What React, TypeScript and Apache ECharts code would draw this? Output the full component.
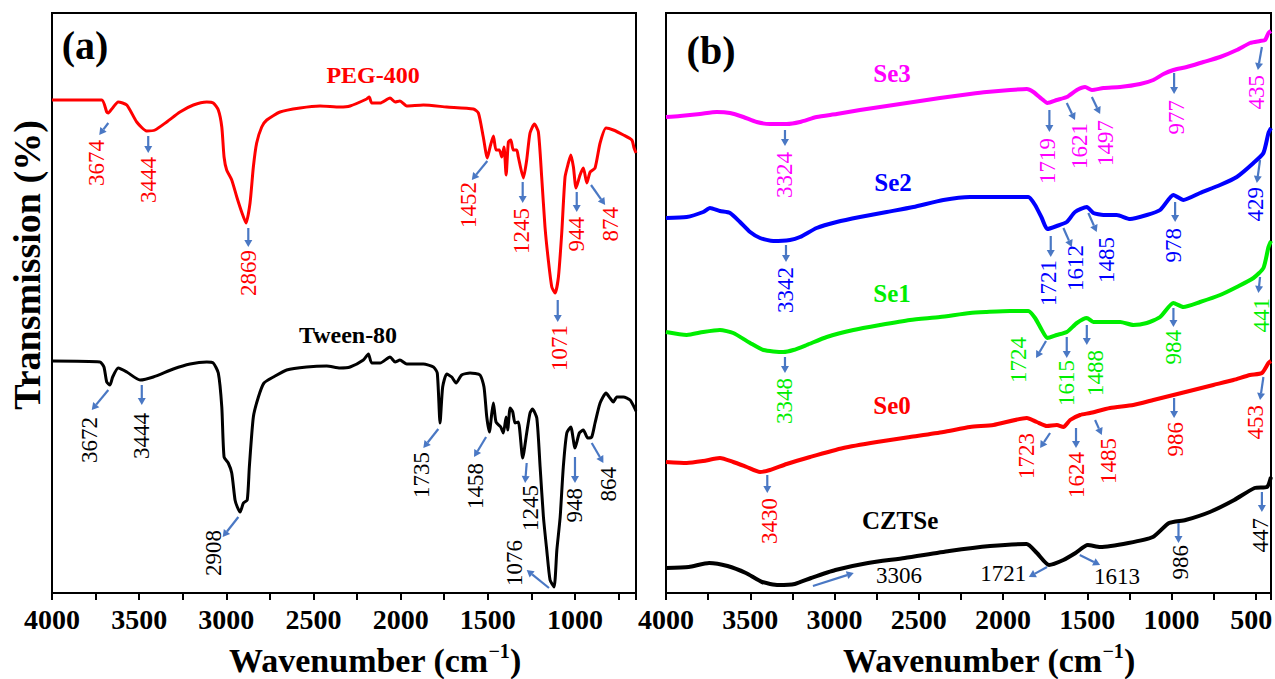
import React, { useEffect, useRef } from 'react';
import * as echarts from 'echarts';

// ---------- Panel (a): wavenumber (cm-1), transmission (a.u., offset) ----------
const peg400: [number, number][] = [
  [4000,493],[3715,493],[3686,481],[3677,480],[3657,484],[3620,491],[3571,488],[3514,471],[3457,462],[3409,463],
  [3342,471],[3266,481],[3189,488],[3112,491],[3075,490],[3046,483],[3026,466],[3013,436],[2998,423],[2969,413],
  [2940,396],[2912,381],[2887,370],[2864,390],[2845,426],[2826,450],[2797,466],[2768,473],[2692,481],[2577,485],
  [2462,487],[2348,486],[2290,487],[2195,494],[2180,496],[2166,490],[2118,490],[2061,495],[2032,491],[2004,492],
  [1965,487],[1870,488],[1736,486],[1583,484],[1554,480],[1526,456],[1503,435],[1487,446],[1468,457],[1453,443],
  [1434,443],[1420,436],[1407,446],[1395,418],[1382,451],[1368,453],[1354,443],[1334,443],[1325,436],[1296,415],
  [1277,433],[1258,460],[1233,469],[1210,461],[1191,416],[1172,366],[1153,333],[1133,306],[1114,300],[1095,316],
  [1076,360],[1057,416],[1038,430],[1024,438],[1009,426],[994,405],[971,418],[952,425],[932,410],[913,421],
  [885,425],[856,450],[822,465],[780,463],[722,458],[674,453],[661,445],[650,440]
];

const tween80: [number, number][] = [
  [4000,232],[3725,231],[3702,226],[3686,211],[3667,208],[3652,216],[3620,225],[3571,221],[3495,213],[3419,216],
  [3304,224],[3208,229],[3112,231],[3075,230],[3046,220],[3026,186],[3013,136],[2989,130],[2969,120],[2950,93],
  [2937,86],[2921,81],[2902,90],[2880,93],[2868,126],[2845,176],[2816,196],[2784,210],[2730,216],[2654,223],
  [2539,226],[2424,227],[2348,225],[2290,226],[2214,233],[2185,239],[2166,230],[2118,230],[2061,236],[2032,231],
  [2004,233],[1965,229],[1870,229],[1812,226],[1790,220],[1774,170],[1759,206],[1736,219],[1707,216],[1682,210],
  [1650,218],[1602,220],[1545,218],[1522,206],[1506,176],[1491,161],[1477,180],[1468,190],[1453,171],[1426,166],
  [1411,160],[1395,176],[1386,163],[1372,185],[1357,181],[1344,170],[1325,171],[1300,135],[1277,160],[1258,180],
  [1244,184],[1219,175],[1200,126],[1181,76],[1162,43],[1143,13],[1120,6],[1104,43],[1085,76],[1067,126],
  [1047,160],[1024,166],[1000,145],[975,160],[952,163],[927,155],[904,156],[885,170],[856,190],[822,200],
  [799,195],[780,191],[760,196],[722,196],[684,193],[661,186],[650,182]
];

// ---------- Panel (b) ----------
const se3: [number, number][] = [
  [4000,476],[3917,477],[3798,479],[3699,481],[3620,480],[3541,476],[3462,471],[3383,469],[3284,469],[3205,471],
  [3106,476],[2987,479],[2849,483],[2690,487],[2532,491],[2374,495],[2196,499],[2097,501],[1958,503],[1859,504],
  [1820,501],[1770,494],[1737,490],[1681,493],[1622,496],[1562,503],[1513,506],[1473,503],[1404,505],[1305,506],
  [1187,509],[1108,513],[1048,519],[989,523],[910,526],[811,531],[712,536],[613,543],[534,550],[475,552],
  [445,553],[425,560],[410,562]
];

const se2: [number, number][] = [
  [4000,375],[3877,376],[3779,381],[3739,385],[3680,382],[3620,380],[3561,371],[3501,361],[3442,355],[3363,352],
  [3264,353],[3205,356],[3106,365],[2987,371],[2849,376],[2690,381],[2532,386],[2354,393],[2196,396],[2097,396],
  [1958,396],[1850,396],[1810,388],[1770,375],[1737,364],[1681,367],[1622,371],[1573,381],[1503,386],[1464,380],
  [1404,378],[1325,378],[1246,374],[1147,378],[1068,383],[989,398],[930,393],[831,400],[712,408],[613,416],
  [514,430],[455,440],[425,460],[410,465]
];

const se1: [number, number][] = [
  [4000,261],[3877,258],[3779,261],[3680,263],[3601,260],[3501,250],[3422,243],[3304,241],[3244,243],[3165,248],
  [3046,256],[2888,263],[2730,268],[2552,273],[2374,276],[2196,280],[2097,281],[1958,282],[1850,282],[1810,275],
  [1770,263],[1737,255],[1681,258],[1622,261],[1562,270],[1503,275],[1464,271],[1404,271],[1305,271],[1227,268],
  [1147,270],[1068,276],[989,290],[930,286],[831,291],[712,298],[613,306],[514,315],[455,325],[425,346],[410,352]
];

const se0: [number, number][] = [
  [4000,131],[3877,130],[3779,132],[3680,135],[3601,131],[3521,126],[3442,121],[3383,123],[3284,129],[3145,136],
  [2948,145],[2749,151],[2552,156],[2354,161],[2196,166],[2057,168],[1859,175],[1800,171],[1740,167],[1681,168],
  [1642,166],[1602,173],[1543,178],[1484,180],[1365,185],[1227,188],[1108,193],[989,198],[870,203],[752,208],
  [633,213],[534,218],[464,220],[425,230],[410,232]
];

const cztse: [number, number][] = [
  [4000,25],[3865,26],[3744,30],[3635,27],[3526,20],[3430,11],[3333,8],[3236,9],[3139,15],[2995,23],
  [2801,30],[2584,35],[2319,42],[2077,47],[1860,49],[1799,40],[1727,28],[1642,33],[1570,40],[1497,48],
  [1424,46],[1256,50],[1111,56],[1015,70],[917,73],[773,81],[628,93],[507,105],[434,106],[410,116]
];

// x-axis tick labels (every 500 cm-1)
const leftTicks = [4000, 3500, 3000, 2500, 2000, 1500, 1000];
const rightTicks = [4000, 3500, 3000, 2500, 2000, 1500, 1000, 500];

// Peak annotations: [arrowFromX, arrowFromY, arrowToX, arrowToY, textX, textY, label, mode]
type Ann = [number, number, number, number, number, number, string, string];

const pegPeaks: Ann[] = [
  [3677,470,3729,458,3744,453,'3674','v'],
  [3448,457,3448,440,3448,436,'3444','v'],
  [2874,365,2874,346,2874,343,'2869','v'],
  [1503,432,1592,413,1612,411,'1452','v'],
  [1300,411,1300,390,1305,385,'1245','v'],
  [1099,293,1099,271,1090,268,'1071','v'],
  [990,401,990,381,990,376,'944','v'],
  [908,408,827,388,799,386,'874','v'],
];
const tweenPeaks: Ann[] = [
  [3677,203,3772,183,3786,176,'3672','v'],
  [3485,208,3485,188,3485,180,'3444','v'],
  [2931,76,3021,56,3075,63,'2908','v'],
  [1784,164,1870,145,1879,141,'1735','v'],
  [1510,156,1579,136,1569,130,'1458','v'],
  [1277,130,1286,110,1258,108,'1245','v'],
  [1149,5,1277,23,1347,53,'1076','v'],
  [1000,136,1000,110,1000,105,'948','v'],
  [904,150,837,130,808,126,'864','v'],
];
const se3Peaks: Ann[] = [
  [3294,463,3294,447,3294,441,'3324','v'],
  [1725,483,1725,461,1737,455,'1719','v'],
  [1622,490,1573,473,1547,470,'1621','v'],
  [1473,496,1424,479,1390,473,'1497','v'],
  [985,520,985,499,969,493,'977','v'],
  [464,546,488,523,494,518,'435','v'],
];
const se2Peaks: Ann[] = [
  [3288,348,3288,331,3288,326,'3342','v'],
  [1717,357,1717,336,1731,333,'1721','v'],
  [1642,365,1592,346,1573,348,'1612','v'],
  [1494,380,1444,361,1384,356,'1485','v'],
  [979,391,979,371,989,365,'978','v'],
  [475,433,494,410,504,406,'429','v'],
];
const se1Peaks: Ann[] = [
  [3294,236,3294,220,3294,215,'3348','v'],
  [1745,252,1804,235,1909,256,'1724','v'],
  [1622,256,1622,235,1626,233,'1615','v'],
  [1503,268,1503,248,1454,243,'1488','v'],
  [989,285,989,266,989,263,'984','v'],
  [475,316,485,300,464,295,'441','v'],
];
const se0Peaks: Ann[] = [
  [3399,118,3399,100,3383,95,'3430','v'],
  [1721,160,1780,145,1859,160,'1723','v'],
  [1567,165,1567,145,1562,141,'1624','v'],
  [1454,173,1414,158,1375,155,'1485','v'],
  [985,195,985,175,979,171,'986','v'],
  [455,216,475,193,504,188,'453','v'],
];
const cztsePeaks: Ann[] = [
  [3128,7,2886,20,2754,18,'3306','l'],
  [1739,26,1847,16,1863,20,'1721','r'],
  [1545,38,1424,28,1460,17,'1613','l'],
  [959,70,959,50,949,48,'986','v'],
  [464,101,464,81,475,75,'447','v'],
];

// Series name tags: [x, y, text]
type Tag = [number, number, string];
const leftTags: Tag[] = [[2158, 518, 'PEG-400'], [2302, 258, 'Tween-80']];
const rightTags: Tag[] = [[2659, 520, 'Se3'], [2653, 411, 'Se2'], [2659, 300, 'Se1'], [2659, 188, 'Se0'], [2611, 73, 'CZTSe']];

const RED = '#ff0000';
const BLACK = '#000000';
const MAGENTA = '#ff00ff';
const BLUE = '#0000ff';
const GREEN = '#00ee00';
const ARROW = '#4a78c4';
const SERIF = '"Liberation Serif", "DejaVu Serif", serif';

function lineSeries(name: string, data: [number, number][], color: string, idx: number, width: number) {
  return {
    name, type: 'line', xAxisIndex: idx, yAxisIndex: idx, data,
    showSymbol: false, symbol: 'none', smooth: 0.2,
    lineStyle: { color, width, join: 'round' }, itemStyle: { color },
    z: 3, silent: true,
  };
}

type Item = { kind: 'ann'; a: Ann; color: string } | { kind: 'tag'; t: Tag; color: string; size: number };

function annotationSeries(idx: number, items: Item[]) {
  return {
    type: 'custom', xAxisIndex: idx, yAxisIndex: idx, silent: true, clip: false, z: 5,
    data: items.map((it) => (it.kind === 'ann' ? [it.a[4], it.a[5]] : [it.t[0], it.t[1]])),
    renderItem: (params: any, api: any) => {
      const it = items[params.dataIndex];
      if (it.kind === 'tag') {
        const p = api.coord([it.t[0], it.t[1]]);
        return {
          type: 'text', x: p[0], y: p[1],
          style: { text: it.t[2], fill: it.color, font: `bold ${it.size}px ${SERIF}`, align: 'center', verticalAlign: 'middle' },
        };
      }
      const a = it.a;
      const p1 = api.coord([a[0], a[1]]);
      const p2 = api.coord([a[2], a[3]]);
      const dx = p2[0] - p1[0];
      const dy = p2[1] - p1[1];
      const len = Math.hypot(dx, dy) || 1;
      const ux = dx / len;
      const uy = dy / len;
      const hl = 7;
      const hw = 4;
      const bx = p2[0] - ux * hl;
      const by = p2[1] - uy * hl;
      const tp = api.coord([a[4], a[5]]);
      const mode = a[7];
      return {
        type: 'group',
        children: [
          { type: 'line', shape: { x1: p1[0], y1: p1[1], x2: bx, y2: by }, style: { stroke: ARROW, lineWidth: 2.2 } },
          { type: 'polygon', shape: { points: [[p2[0], p2[1]], [bx - uy * hw, by + ux * hw], [bx + uy * hw, by - ux * hw]] }, style: { fill: ARROW } },
          {
            type: 'text', x: tp[0], y: tp[1], rotation: mode === 'v' ? Math.PI / 2 : 0,
            style: {
              text: a[6], fill: it.color, font: `23px ${SERIF}`,
              align: mode === 'l' ? 'left' : 'right', verticalAlign: 'middle',
            },
          },
        ],
      };
    },
  };
}

function xAxisFor(idx: number, min: number, labels: number[]) {
  return {
    type: 'value', gridIndex: idx, min, max: 4000, inverse: true, splitNumber: 7,
    axisLine: { show: true, lineStyle: { color: '#000', width: 2 } },
    axisTick: { show: true, inside: false, length: 7, lineStyle: { color: '#000', width: 2 } },
    minorTick: { show: true, splitNumber: 2, length: 7, lineStyle: { color: '#000', width: 2 } },
    splitLine: { show: false },
    minorSplitLine: { show: false },
    axisLabel: {
      show: true, margin: 12, color: '#000', fontFamily: SERIF, fontWeight: 'bold', fontSize: 28,
      showMinLabel: true, showMaxLabel: true, hideOverlap: false,
      formatter: (v: number) => {
        const r = Math.round(v);
        if (labels.indexOf(r) < 0) return '';
        return r === 500 ? `{e|${r}}` : String(r);
      },
      rich: { e: { fontFamily: SERIF, fontWeight: 'bold', fontSize: 28, color: '#000', padding: [0, 9, 0, 0] } },
    },
  };
}

function yAxisFor(idx: number) {
  return {
    type: 'value', gridIndex: idx, min: 0, max: 580,
    axisLine: { show: false }, axisTick: { show: false }, axisLabel: { show: false }, splitLine: { show: false },
  };
}

const titleRich = {
  b: { font: `bold 34px ${SERIF}`, fill: '#000', color: '#000', lineHeight: 38 },
  s: { font: `bold 20px ${SERIF}`, fill: '#000', color: '#000', verticalAlign: 'top', lineHeight: 20 },
};

export default function App() {
  const ref = useRef<HTMLDivElement>(null);
  useEffect(() => {
    if (!ref.current) return;
    const chart = echarts.init(ref.current, null, { renderer: 'svg', width: 1275, height: 679 });
    const leftItems: Item[] = [
      ...pegPeaks.map((a) => ({ kind: 'ann', a, color: RED } as Item)),
      ...tweenPeaks.map((a) => ({ kind: 'ann', a, color: BLACK } as Item)),
      { kind: 'tag', t: leftTags[0], color: RED, size: 24 },
      { kind: 'tag', t: leftTags[1], color: BLACK, size: 24 },
    ];
    const tagColors = [MAGENTA, BLUE, GREEN, RED, BLACK];
    const rightItems: Item[] = [
      ...se3Peaks.map((a) => ({ kind: 'ann', a, color: MAGENTA } as Item)),
      ...se2Peaks.map((a) => ({ kind: 'ann', a, color: BLUE } as Item)),
      ...se1Peaks.map((a) => ({ kind: 'ann', a, color: GREEN } as Item)),
      ...se0Peaks.map((a) => ({ kind: 'ann', a, color: RED } as Item)),
      ...cztsePeaks.map((a) => ({ kind: 'ann', a, color: BLACK } as Item)),
      ...rightTags.map((t, i) => ({ kind: 'tag', t, color: tagColors[i], size: 25 } as Item)),
    ];
    chart.setOption({
      animation: false,
      backgroundColor: '#ffffff',
      grid: [
        { left: 52, top: 13, width: 584, height: 580, show: true, borderColor: '#000', borderWidth: 2, backgroundColor: 'transparent', containLabel: false, outerBoundsMode: 'none' },
        { left: 666, top: 13, width: 605, height: 580, show: true, borderColor: '#000', borderWidth: 2, backgroundColor: 'transparent', containLabel: false, outerBoundsMode: 'none' },
      ],
      xAxis: [xAxisFor(0, 650, leftTicks), xAxisFor(1, 410, rightTicks)],
      yAxis: [yAxisFor(0), yAxisFor(1)],
      series: [
        lineSeries('PEG-400', peg400, RED, 0, 3),
        lineSeries('Tween-80', tween80, BLACK, 0, 3),
        lineSeries('Se3', se3, MAGENTA, 1, 4),
        lineSeries('Se2', se2, BLUE, 1, 4),
        lineSeries('Se1', se1, GREEN, 1, 4),
        lineSeries('Se0', se0, RED, 1, 4),
        lineSeries('CZTSe', cztse, BLACK, 1, 4),
        annotationSeries(0, leftItems),
        annotationSeries(1, rightItems),
      ],
      graphic: [
        { type: 'text', x: 85, y: 45, style: { text: '(a)', font: `bold 40px ${SERIF}`, fill: '#000', align: 'center', verticalAlign: 'middle' } },
        { type: 'text', x: 711, y: 50, style: { text: '(b)', font: `bold 40px ${SERIF}`, fill: '#000', align: 'center', verticalAlign: 'middle' } },
        { type: 'text', x: 27, y: 265, rotation: Math.PI / 2, style: { text: 'Transmission (%)', font: `bold 38px ${SERIF}`, fill: '#000', align: 'center', verticalAlign: 'middle' } },
        { type: 'text', x: 375, y: 660, style: { text: '{b|Wavenumber (cm}{s|−1}{b|)}', align: 'center', verticalAlign: 'middle', rich: titleRich } },
        { type: 'text', x: 989, y: 660, style: { text: '{b|Wavenumber (cm}{s|−1}{b|)}', align: 'center', verticalAlign: 'middle', rich: titleRich } },
      ],
    });
    return () => chart.dispose();
  }, []);
  return <div ref={ref} style={{ position: 'fixed', left: 0, top: 0, width: 1275, height: 679, background: '#fff' }} />;
}
